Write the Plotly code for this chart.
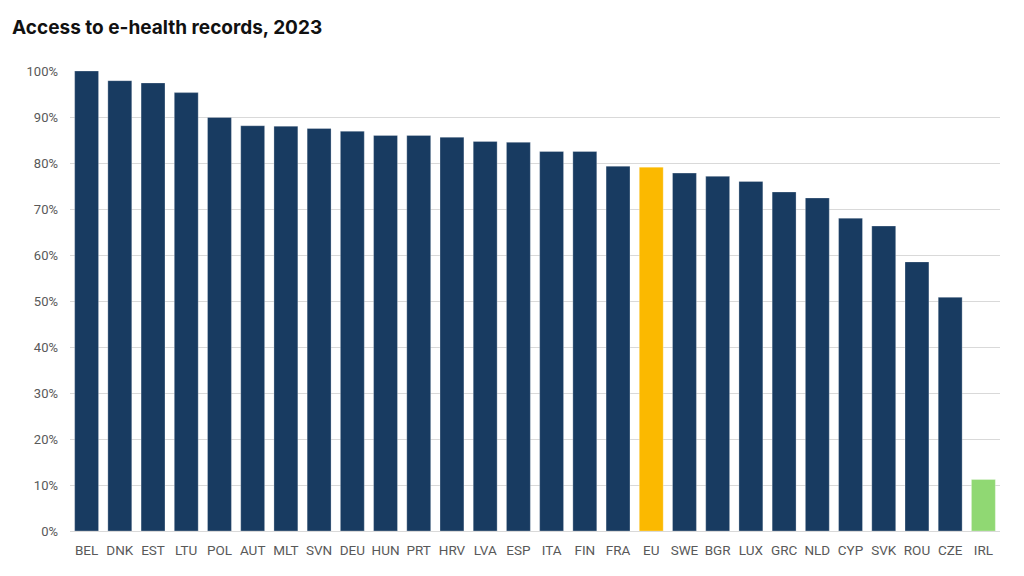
import plotly.graph_objects as go

countries = ["BEL", "DNK", "EST", "LTU", "POL", "AUT", "MLT", "SVN", "DEU", "HUN",
             "PRT", "HRV", "LVA", "ESP", "ITA", "FIN", "FRA", "EU", "SWE", "BGR",
             "LUX", "GRC", "NLD", "CYP", "SVK", "ROU", "CZE", "IRL"]
values = [100.0, 97.9, 97.4, 95.3, 89.9, 88.1, 88.0, 87.5, 86.9, 86.0,
          86.0, 85.6, 84.7, 84.5, 82.5, 82.5, 79.3, 79.1, 77.8, 77.1,
          76.0, 73.7, 72.4, 68.0, 66.3, 58.5, 50.8, 11.2]

NAVY = "#183B61"
EU_COLOR = "#FBB900"
IRL_COLOR = "#90D873"
colors = [EU_COLOR if c == "EU" else IRL_COLOR if c == "IRL" else NAVY for c in countries]

fig = go.Figure(go.Bar(
    x=countries,
    y=[v / 100 for v in values],
    marker=dict(color=colors, line=dict(color="rgba(255,255,255,0.35)", width=0.8)),
    hovertemplate="%{x}: %{y:.1%}<extra></extra>",
))

fig.update_layout(
    width=1024, height=576,
    paper_bgcolor="white", plot_bgcolor="white",
    margin=dict(l=62, r=32, t=63, b=53),
    bargap=0.28,
    showlegend=False,
    title=dict(text="<b>Access to e-health records, 2023</b>",
               x=0.004, xanchor="left", y=0.967, yanchor="middle",
               font=dict(family="Inter, Roboto, Arial", size=19, color="#111111")),
    font=dict(family="Roboto, Arial", size=13, color="#595959"),
)
fig.update_yaxes(range=[0, 1], tickformat=".0%", dtick=0.1,
                 showgrid=True, gridcolor="#D9D9D9", gridwidth=1,
                 zeroline=True, zerolinecolor="#D9D9D9", zerolinewidth=1,
                 ticks="", ticklabelstandoff=11, showline=False)
fig.update_xaxes(showgrid=False, ticks="", showline=False, tickangle=0,
                 ticklabelstandoff=9, tickfont=dict(size=13.5))

fig.write_html("out.html")
